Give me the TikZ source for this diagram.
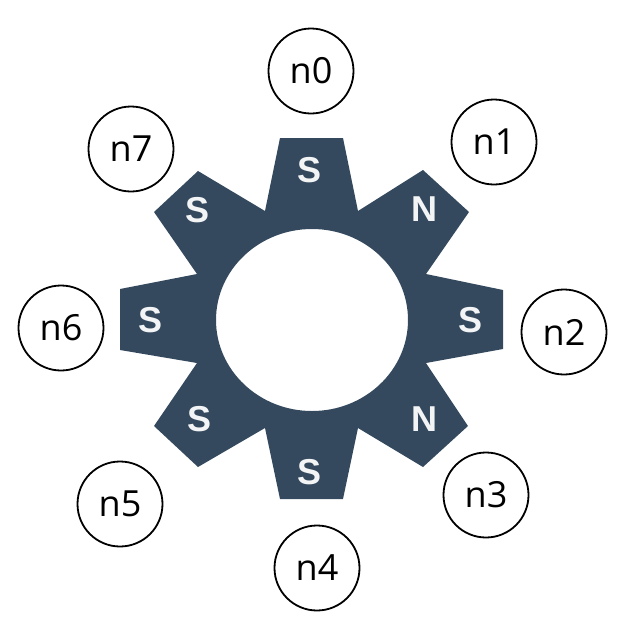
\documentclass[tikz,border=0pt]{standalone}
\usepackage{fontspec}
\setmainfont{Open Sans}
\newfontfamily\polefont[Scale=1]{Liberation Sans}
\definecolor{gearblue}{HTML}{34495E}
\tikzset{
  x=1pt,y=-1pt,
  ringnode/.style={circle,draw=black,line width=1.8pt,fill=white,minimum size=85pt,inner sep=0pt,font=\fontsize{36}{36}\selectfont,text=black},
  polelabel/.style={inner sep=0pt,font=\polefont\bfseries\fontsize{36}{36}\selectfont,text=white!94!gearblue}
}
\begin{document}
\begin{tikzpicture}
\useasboundingbox (0,0) rectangle (619,625);
\fill[gearblue,even odd rule]
  (280,138) -- (343,138) -- (358,211) -- (423,170) -- (469,212) -- (426,274)
  -- (503,290) -- (503,349) -- (426,363) -- (468,426) -- (423,467) -- (358,428)
  -- (343,499) -- (280,499) -- (265,428) -- (198,467) -- (154,426) -- (197,363)
  -- (120,350) -- (120,289) -- (197,274) -- (154,212) -- (198,171) -- (265,211) -- cycle
  (312,320) ellipse [x radius=96, y radius=91];
\node[polelabel] (p0) at (310,170) {S};
\node[polelabel] (p1) at (424,209) {N};
\node[polelabel] (p2) at (471,320) {S};
\node[polelabel] (p3) at (424,419) {N};
\node[polelabel] (p4) at (310,472) {S};
\node[polelabel] (p5) at (200,419) {S};
\node[polelabel] (p6) at (151,320) {S};
\node[polelabel] (p7) at (198,210) {S};
\node[ringnode] (n0) at (311,71) {n0};
\node[ringnode] (n1) at (494,142) {n1};
\node[ringnode] (n2) at (564,332) {n2};
\node[ringnode] (n3) at (486,495) {n3};
\node[ringnode] (n4) at (317,568) {n4};
\node[ringnode] (n5) at (120,504) {n5};
\node[ringnode] (n6) at (61,328) {n6};
\node[ringnode] (n7) at (131,149) {n7};
\end{tikzpicture}
\end{document}
